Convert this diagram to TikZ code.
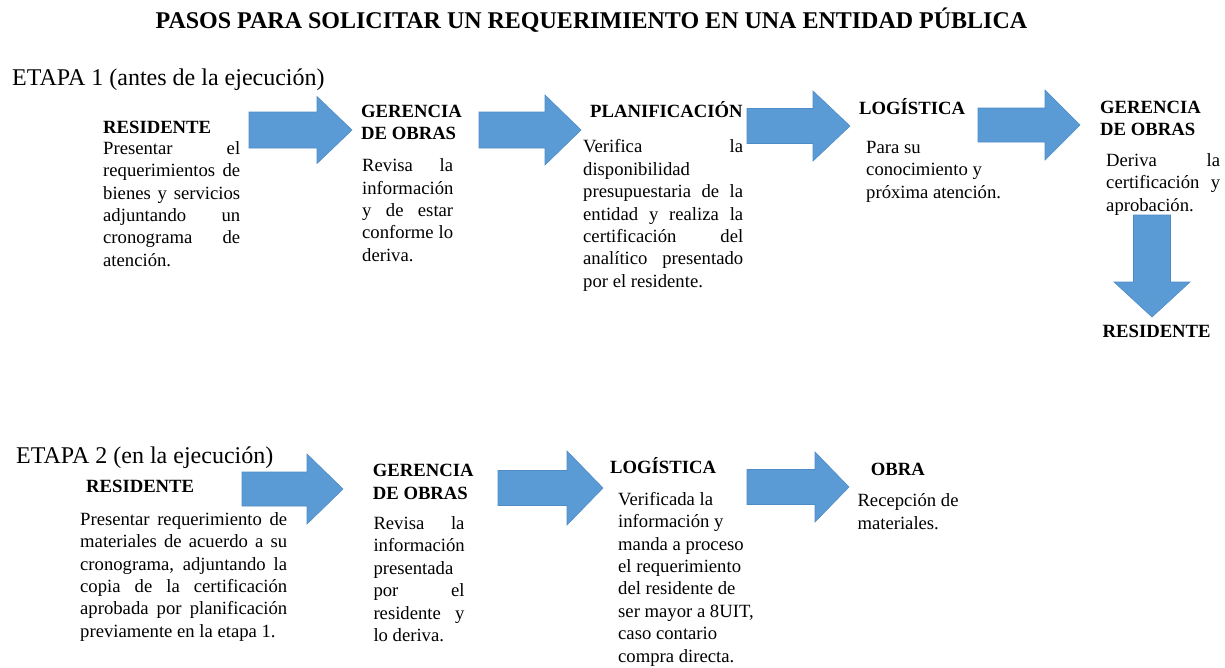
\documentclass[tikz,border=0pt]{standalone}
\usepackage{fontspec}
\setmainfont{Liberation Serif}
\definecolor{arrowblue}{HTML}{5B9BD5}
\definecolor{arrowedge}{HTML}{4F8CC6}
\newcommand\jl[2]{\hbox to #1pt{#2}}
\newcommand\st{\vrule height 18pt width 0pt}
% right block arrow: tail x, head base x, tip x, centre y, shaft half, head half
\newcommand\rarrow[6]{%
  \filldraw[blockarrow] (#1,#4-#5) -- (#2,#4-#5) -- (#2,#4-#6) -- (#3,#4)
    -- (#2,#4+#6) -- (#2,#4+#5) -- (#1,#4+#5) -- cycle;}
% down block arrow: centre x, top y, head base y, tip y, shaft half, head half
\newcommand\darrow[6]{%
  \filldraw[blockarrow] (#1-#5,#2) -- (#1+#5,#2) -- (#1+#5,#3) -- (#1+#6,#3)
    -- (#1,#4) -- (#1-#6,#3) -- (#1-#5,#3) -- cycle;}
\begin{document}
\begin{tikzpicture}[x=1pt,y=-1pt,
  blockarrow/.style={fill=arrowblue,draw=arrowedge,line width=0.6pt},
  body/.style={inner sep=0pt,anchor=north west,align=left,
    font=\fontsize{18.67}{22.4}\selectfont},
  head/.style={inner sep=0pt,anchor=base west,
    font=\fontsize{18.67}{22.4}\selectfont\bfseries},
  headtwo/.style={inner sep=0pt,anchor=north west,align=left,
    font=\fontsize{18.67}{22.4}\selectfont\bfseries},
  etapa/.style={inner sep=0pt,anchor=base west,font=\fontsize{24}{28}\selectfont}]
\fill[white] (0,0) rectangle (1225,667);
\useasboundingbox (0,0) rectangle (1225,667);

\node[inner sep=0pt,anchor=base,font=\fontsize{24}{28}\selectfont\bfseries] (title) at (591.5,28)
  {PASOS PARA SOLICITAR UN REQUERIMIENTO EN UNA ENTIDAD P\'UBLICA};

% ---------------- ETAPA 1
\node[etapa] (et1) at (12,85) {ETAPA 1 (antes de la ejecución)};

\node[head] (r1h) at (103,133.3) {RESIDENTE};
\node[body] (r1b) at (103,136) {\st\jl{137}{Presentar el}\\
  \jl{137}{requerimientos de}\\ \jl{137}{bienes y servicios}\\
  \jl{137}{adjuntando un}\\ \jl{137}{cronograma de}\\ atención.};

\rarrow{249}{317}{352}{130}{18}{33.5}

\node[headtwo] (g1h) at (361,99.3) {\st GERENCIA\\DE OBRAS};
\node[body] (g1b) at (362,153.5) {\st\jl{91}{Revisa la}\\ información\\
  \jl{91}{y de estar}\\ \jl{91}{conforme lo}\\ deriva.};

\rarrow{479}{545}{581}{130}{18}{35}

\node[head] (p1h) at (590,117.3) {PLANIFICACIÓN};
\node[body] (p1b) at (583,134.7) {\st\jl{160}{Verifica la}\\ disponibilidad\\
  \jl{160}{presupuestaria de la}\\ \jl{160}{entidad y realiza la}\\
  \jl{160}{certificación del}\\ \jl{160}{analítico presentado}\\ por el residente.};

\rarrow{747}{813}{850}{126}{17.5}{35}

\node[head] (l1h) at (859,114.3) {LOGÍSTICA};
\node[body] (l1b) at (866,135.3) {\st Para su\\ conocimiento y\\ próxima atención.};

\rarrow{978}{1045}{1080}{125}{17}{35}

\node[headtwo] (g2h) at (1100,95.3) {\st GERENCIA\\DE OBRAS};
\node[body] (g2b) at (1106,148) {\st\jl{114}{Deriva la}\\
  \jl{114}{certificación y}\\ aprobación.};

\darrow{1152}{215}{282}{317}{18.5}{38}

\node[head] (r2h) at (1102.5,337) {RESIDENTE};

% ---------------- ETAPA 2
\node[etapa] (et2) at (16,463) {ETAPA 2 (en la ejecución)};

\node[head] (r3h) at (86,492.7) {RESIDENTE};
\node[body] (r3b) at (80,507) {\st\jl{207}{Presentar requerimiento de}\\
  \jl{207}{materiales de acuerdo a su}\\ \jl{207}{cronograma, adjuntando la}\\
  \jl{207}{copia de la certificación}\\ \jl{207}{aprobada por planificación}\\
  previamente en la etapa 1.};

\rarrow{242}{307}{343}{489}{17}{35}

\node[headtwo] (g3h) at (372.7,458.7) {\st GERENCIA\\DE OBRAS};
\node[body] (g3b) at (373.3,511.3) {\st\jl{91}{Revisa la}\\ información\\
  presentada\\ \jl{91}{por el}\\ \jl{91}{residente y}\\ lo deriva.};

\rarrow{498}{567}{603}{488}{17.5}{37}

\node[head] (l2h) at (610,473.3) {LOGÍSTICA};
\node[body] (l2b) at (618,487) {\st Verificada la\\ información y\\ manda a proceso\\
  el requerimiento\\ del residente de\\ ser mayor a 8UIT,\\ caso contario\\ compra directa.};

\rarrow{747}{815}{849}{487}{17.5}{35}

\node[head] (o1h) at (870.7,475) {OBRA};
\node[body] (o1b) at (857.3,488.7) {\st Recepción de\\ materiales.};
\end{tikzpicture}
\end{document}
